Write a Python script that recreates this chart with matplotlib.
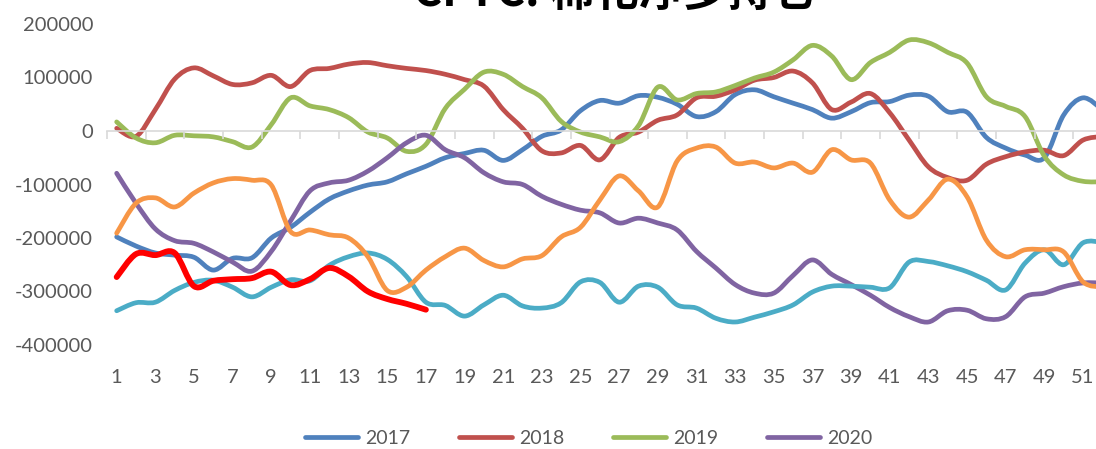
import matplotlib
matplotlib.use("Agg")
import matplotlib.pyplot as plt
import numpy as np
from matplotlib.path import Path
from matplotlib.patches import PathPatch
from matplotlib.lines import Line2D

# ---------------------------------------------------------------
# Data: CFTC cotton net long positions by week
# ---------------------------------------------------------------
weeks = list(range(1, 53))

y2017 = [-198000, -215000, -228000, -232000, -236000, -260000, -238000, -237000,
         -200000, -180000, -152000, -127000, -112000, -101000, -95000, -80000,
         -66000, -50000, -42000, -36000, -55000, -35000, -10000, 2000, 38000,
         57000, 52000, 66000, 63000, 50000, 27000, 36000, 68000, 77000, 64000,
         52000, 40000, 24000, 36000, 53000, 55000, 67000, 65000, 36000, 35000,
         -12000, -32000, -45000, -50000, 30000, 62000, 40000]
y2018 = [5000, -10000, 40000, 97000, 118000, 103000, 87000, 90000, 104000, 83000,
         113000, 117000, 125000, 128000, 122000, 117000, 113000, 106000, 96000,
         84000, 40000, 5000, -37000, -41000, -27000, -54000, -12000, -2000, 20000,
         30000, 62000, 65000, 77000, 95000, 100000, 112000, 90000, 40000, 54000,
         70000, 34000, -17000, -67000, -87000, -92000, -62000, -48000, -39000,
         -36000, -46000, -17000, -10000]
y2019 = [17000, -13000, -22000, -8000, -9000, -11000, -20000, -30000, 12000, 62000,
         47000, 40000, 25000, -2000, -13000, -38000, -25000, 42000, 78000, 110000,
         106000, 83000, 62000, 18000, -2000, -11000, -20000, 10000, 82000, 58000,
         70000, 73000, 85000, 99000, 110000, 133000, 160000, 140000, 96000, 128000,
         147000, 170000, 165000, 147000, 127000, 64000, 46000, 27000, -47000,
         -82000, -94000, -95000]
y2020 = [-79000, -135000, -183000, -205000, -210000, -226000, -245000, -262000,
         -225000, -168000, -112000, -97000, -92000, -75000, -50000, -22000, -8000,
         -35000, -50000, -78000, -95000, -100000, -122000, -137000, -148000,
         -153000, -172000, -163000, -172000, -185000, -225000, -256000, -287000,
         -303000, -303000, -270000, -241000, -268000, -287000, -307000, -330000,
         -347000, -357000, -336000, -335000, -351000, -347000, -310000, -303000,
         -291000, -284000, -284000]
y2021 = [-336000, -321000, -320000, -298000, -283000, -279000, -292000, -310000,
         -292000, -278000, -280000, -251000, -235000, -228000, -240000, -272000,
         -320000, -326000, -346000, -325000, -307000, -327000, -331000, -321000,
         -282000, -283000, -320000, -290000, -292000, -325000, -331000, -350000,
         -357000, -348000, -338000, -325000, -301000, -290000, -290000, -292000,
         -293000, -245000, -244000, -252000, -263000, -279000, -297000, -247000,
         -222000, -250000, -209000, -208000]
y2022 = [-191000, -135000, -125000, -142000, -116000, -97000, -89000, -92000,
         -101000, -188000, -185000, -194000, -200000, -235000, -298000, -292000,
         -260000, -235000, -219000, -242000, -254000, -239000, -233000, -198000,
         -180000, -129000, -84000, -112000, -142000, -56000, -32000, -30000,
         -60000, -58000, -69000, -60000, -77000, -35000, -54000, -60000, -129000,
         -161000, -129000, -90000, -123000, -204000, -235000, -222000, -222000,
         -226000, -282000, -292000]
y2023 = [-273000, -230000, -232000, -228000, -290000, -280000, -277000, -275000,
         -263000, -288000, -277000, -256000, -272000, -300000, -314000, -323000,
         -334000]

series = [
    ("2017", y2017, "#4F81BD", 3.4),
    ("2018", y2018, "#C0504D", 3.4),
    ("2019", y2019, "#9BBB59", 3.4),
    ("2020", y2020, "#8064A2", 3.4),
    ("2021", y2021, "#4BACC6", 3.4),
    ("2022", y2022, "#F79646", 3.4),
    ("2023", y2023, "#FF0000", 4.2),
]
legend_years = ["2017", "2018", "2019", "2020"]

TXT = "#595959"
FONT = "Lato"


def smooth_path(xs, ys):
    """Excel-style smoothed line: cubic Bezier through every point."""
    pts = np.column_stack([xs, ys]).astype(float)
    n = len(pts)
    verts = [pts[0]]
    codes = [Path.MOVETO]
    for i in range(n - 1):
        p0 = pts[i - 1] if i > 0 else pts[i]
        p1 = pts[i]
        p2 = pts[i + 1]
        p3 = pts[i + 2] if i + 2 < n else pts[i + 1]
        verts += [p1 + (p2 - p0) / 6, p2 - (p3 - p1) / 6, p2]
        codes += [Path.CURVE4] * 3
    return Path(verts, codes)


# ---------------------------------------------------------------
# Figure
# ---------------------------------------------------------------
W, H = 1096, 449
fig = plt.figure(figsize=(W / 100, H / 100), dpi=100)
ax = fig.add_axes([107 / W, 1 - 345 / H, (1112 - 107) / W, (345 - 24) / H])
ax.set_xlim(0.5, 52.5)
ax.set_ylim(-400000, 200000)

handles = []
for name, vals, color, lw in series:
    path = smooth_path(weeks[:len(vals)], vals)
    ax.add_patch(PathPatch(path, fill=False, edgecolor=color, lw=lw,
                           capstyle="round", joinstyle="round"))
    if name in legend_years:
        handles.append(Line2D([], [], color=color, lw=3.4,
                              solid_capstyle="round", label=name))

# axes styling (Excel look)
for side in ("top", "right", "left"):
    ax.spines[side].set_visible(False)
ax.spines["bottom"].set_position(("data", 0))
ax.spines["bottom"].set_color("#D9D9D9")
ax.spines["bottom"].set_linewidth(1.2)
ax.set_xticks(np.arange(0.5, 53, 2))
ax.tick_params(axis="x", direction="out", length=6, width=1.2,
               color="#D9D9D9", labelbottom=False)

ax.set_yticks(range(-400000, 200001, 100000))
ax.set_yticklabels([str(v) for v in range(-400000, 200001, 100000)])
ax.tick_params(axis="y", length=0, pad=10, labelsize=14.5, labelcolor=TXT)
for lab in ax.get_yticklabels():
    lab.set_family(FONT)

sec = ax.secondary_xaxis("bottom")
sec.set_xticks(range(1, 52, 2))
sec.tick_params(length=0, pad=17, labelsize=14.5, labelcolor=TXT)
sec.spines["bottom"].set_visible(False)
for lab in sec.get_xticklabels():
    lab.set_family(FONT)

fig.text(615 / W, 1 - 6 / H, "CFTC: 棉花净多持仓", ha="center", va="baseline",
         fontsize=32, fontweight="bold", family=["Noto Sans CJK SC", "DejaVu Sans"])

leg = fig.legend(handles=handles, loc="center", bbox_to_anchor=(589 / W, 1 - 438 / H),
                 ncol=4, frameon=False, fontsize=14, handlelength=2.7,
                 handletextpad=0.4, columnspacing=2.5,
                 prop={"family": FONT, "size": 14})
for t in leg.get_texts():
    t.set_color(TXT)

fig.savefig("out.png", dpi=100)
plt.close(fig)
